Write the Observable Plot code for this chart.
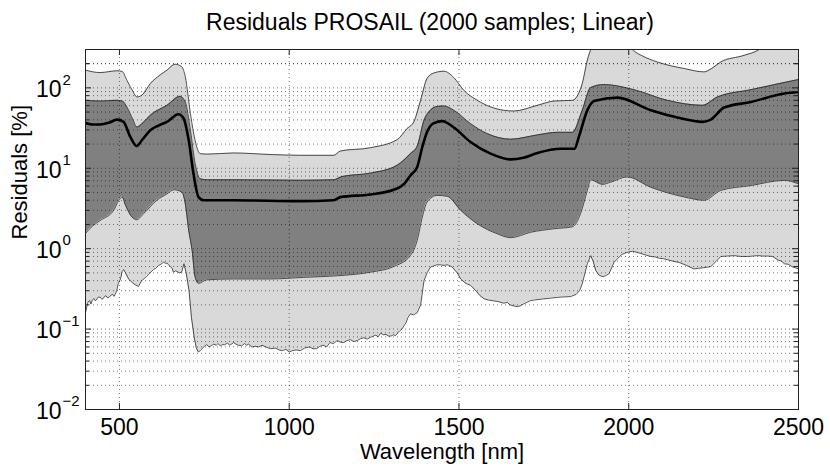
<!DOCTYPE html>
<html><head><meta charset="utf-8">
<script src="https://cdn.jsdelivr.net/npm/d3@7"></script>
<script src="https://cdn.jsdelivr.net/npm/@observablehq/plot@0.6"></script>
<style>body{margin:0;background:#fff} #chart svg{display:block}</style>
</head><body><div id="chart"></div>
<script>
// ---- data ----
const titleText = "Residuals PROSAIL (2000 samples; Linear)";
const xLabel = "Wavelength [nm]";
const yLabel = "Residuals [%]";
const xTicks = [500, 1000, 1500, 2000, 2500];
const yDecades = [0.01, 0.1, 1, 10, 100];
const yExponents = ["\u22122", "\u22121", "0", "1", "2"];

// upper outer bound (light band top)
const wlUpOuter = [400,443,493,508,522,540,551,566,591,620,640,664,684,694,709,723,738,760,836,950,1033,1131,1151,1239,1318,1347,1367,1387,1406,1426,1456,1485,1514,1554,1632,1662,1731,1780,1834,1863,1878,1890,1900,2000,2008,2015,2040,2084,2163,2222,2245,2271,2340,2384,2400,2500];
const upOuter   = [166,155,163,160,124,90,77,81,113,145,166,197,182,137,48,22,15.2,15.0,15.5,14.8,14.5,14.5,16.4,18.0,22.7,31.1,37.8,70,131,153,161,134,93.5,70,52.6,51.5,60.7,68.5,70,113,221,320,450,450,310,290,250,210,174,158,175,210,254,300,340,420];

// upper inner bound (dark band top)
const wlUpInner = [400,443,493,510,522,540,551,570,591,640,679,694,709,723,738,760,836,1033,1131,1156,1239,1318,1357,1377,1397,1411,1436,1456,1485,1534,1583,1652,1731,1790,1834,1863,1888,1927,2015,2114,2217,2261,2360,2500];
const upInner   = [70,68.5,70,68,57.8,40,32.6,37,45.6,60.7,78.5,66.7,29.7,11.4,7.4,7.2,7.2,7.1,7.2,7.9,8.7,10.9,15.2,18.8,39.6,50,58.8,59.5,52.6,35.9,27,23,26,28,28,52.6,101,110,95,70,60.7,77,95,127];

// median
const wlMedian = [400,420,443,470,493,512,532,551,566,591,615,640,674,689,704,718,733,748,836,1033,1131,1151,1239,1308,1340,1357,1377,1392,1406,1426,1451,1485,1534,1593,1652,1690,1731,1800,1840,1853,1878,1898,1967,2065,2144,2217,2240,2281,2360,2458,2500];
const median   = [36.5,35,35,37,40.3,37.8,24.5,18.9,22.3,29.7,34,37.8,46.9,41.6,22.3,8.6,4.38,4.0,4.0,3.9,4.0,4.38,4.73,5.4,6.5,8.15,10.4,18.4,28.3,36.5,38.6,32.1,21.2,15.2,12.9,13.5,15.5,17.5,17.5,24.5,52.6,68.5,75.7,52.6,42.7,37.8,40,56.9,66.8,85,88.8];

// lower inner bound (dark band bottom)
const wlLowInner = [400,420,443,483,498,508,518,537,551,571,610,640,660,684,694,704,714,723,733,757,836,944,1043,1141,1239,1308,1357,1377,1392,1406,1436,1466,1505,1554,1613,1652,1711,1780,1834,1858,1878,1888,1922,1946,1995,2065,2163,2222,2271,2360,2458,2500];
const lowInner   = [1.55,1.9,2.24,3.0,4.0,4.38,3.45,2.47,2.29,2.72,4.0,4.8,5.4,5.05,3.6,1.69,0.95,0.44,0.37,0.41,0.42,0.42,0.44,0.46,0.51,0.6,0.82,1.27,2.47,3.8,4.6,4.47,3.0,2.04,1.53,1.37,1.6,1.77,1.87,2.72,5.3,7.2,6.3,6.7,7.8,5.8,4.4,4.0,5.3,6.1,7.07,6.4];

// lower outer bound (light band bottom, noisy)
const wlLowOuter = [400,404,408,412,416,420,425,429,432,437,443,448,452,456,460,465,470,475,480,484,487,492,496,503,508,512,518,527,540,556,565,572,581,590,600,607,615,622,630,635,640,645,650,655,659,665,670,676,683,690,697,705,712,720,726,732,738,745,751,757,764,770,778,785,790,797,803,810,818,825,836,843,850,860,868,875,880,890,900,910,920,935,945,960,970,980,990,1000,1010,1020,1033,1045,1060,1070,1080,1090,1100,1110,1120,1130,1141,1150,1160,1170,1180,1190,1200,1210,1220,1230,1239,1248,1255,1262,1269,1277,1285,1292,1300,1307,1313,1320,1325,1332,1338,1344,1350,1357,1366,1377,1387,1397,1406,1416,1425,1435,1445,1456,1465,1470,1480,1495,1505,1520,1534,1550,1562,1574,1587,1600,1615,1632,1642,1650,1660,1672,1681,1690,1700,1711,1722,1740,1750,1760,1770,1780,1790,1800,1815,1829,1845,1855,1863,1878,1888,1895,1903,1912,1922,1932,1942,1957,1968,1980,1995,2011,2025,2040,2052,2065,2078,2090,2102,2114,2130,2150,2170,2192,2205,2220,2232,2242,2258,2271,2290,2311,2330,2350,2365,2380,2395,2410,2424,2440,2450,2458,2470,2480,2490,2500];
const lowOuter   = [0.16,0.19,0.22,0.226,0.205,0.23,0.24,0.225,0.23,0.25,0.25,0.235,0.24,0.255,0.26,0.245,0.25,0.265,0.27,0.255,0.27,0.30,0.365,0.42,0.52,0.55,0.50,0.42,0.37,0.338,0.40,0.42,0.46,0.50,0.55,0.57,0.62,0.64,0.68,0.66,0.66,0.63,0.60,0.57,0.51,0.53,0.52,0.50,0.51,0.65,0.49,0.30,0.14,0.08,0.059,0.052,0.054,0.058,0.062,0.064,0.060,0.062,0.065,0.063,0.066,0.062,0.064,0.064,0.067,0.063,0.068,0.065,0.063,0.062,0.066,0.063,0.065,0.060,0.061,0.060,0.063,0.059,0.057,0.058,0.055,0.054,0.056,0.052,0.054,0.055,0.054,0.058,0.060,0.057,0.057,0.061,0.063,0.060,0.068,0.066,0.072,0.069,0.068,0.072,0.074,0.070,0.072,0.076,0.078,0.075,0.079,0.082,0.084,0.080,0.089,0.085,0.086,0.082,0.082,0.085,0.083,0.09,0.095,0.10,0.11,0.12,0.14,0.155,0.15,0.16,0.2,0.40,0.50,0.59,0.61,0.63,0.63,0.62,0.63,0.62,0.59,0.50,0.42,0.37,0.35,0.30,0.26,0.238,0.23,0.225,0.22,0.21,0.215,0.20,0.195,0.19,0.195,0.205,0.215,0.226,0.23,0.235,0.238,0.24,0.243,0.245,0.248,0.25,0.252,0.254,0.27,0.30,0.365,0.65,0.82,0.70,0.535,0.47,0.45,0.46,0.49,0.68,0.76,0.85,0.90,0.93,0.90,0.86,0.83,0.80,0.79,0.76,0.75,0.73,0.70,0.67,0.62,0.56,0.57,0.58,0.59,0.60,0.70,0.80,0.81,0.82,0.80,0.80,0.81,0.82,0.81,0.81,0.80,0.72,0.70,0.65,0.64,0.60,0.58,0.56];

// ---- layout ----
const W = 830, H = 467;
const mL = 85, mR = 32, mT = 49, mB = 58;
const fw = W - mL - mR, fh = H - mT - mB;
const yMin = 0.01, yMax = 300;
const LIGHT = "#d9d9d9", DARK = "#808080", EDGE = "#262626";
const FONT = "'Liberation Sans', Arial, Helvetica, sans-serif";

const pts = (xs, vs) => xs.map((x, i) => ({wl: x, v: vs[i]}));
const dUpOuter = pts(wlUpOuter, upOuter);
const dUpInner = pts(wlUpInner, upInner);
const dMedian = pts(wlMedian, median);
const dLowInner = pts(wlLowInner, lowInner);
const dLowOuter = pts(wlLowOuter, lowOuter);

const yGrid = yDecades.flatMap(d => [1,2,3,4,5,6,7,8,9].map(m => +(m * d).toPrecision(3))).filter(v => v <= yMax);
yGrid.push(200, 300);
const yMinor = yGrid.filter(v => !yDecades.includes(v));
const xGrid = xTicks.filter(v => v < 2500);

const smooth = "monotone-x";
const chart = Plot.plot({
  width: W, height: H,
  marginLeft: mL, marginRight: mR, marginTop: mT, marginBottom: mB,
  style: {fontFamily: FONT, background: "#fff", color: "#000"},
  x: {domain: [400, 2500], axis: null},
  y: {type: "log", domain: [yMin, yMax], axis: null},
  marks: [
    Plot.areaY(dLowOuter, {x: "wl", y1: "v", y2: yMax, fill: LIGHT, clip: true}),
    Plot.areaY(dLowInner, {x: "wl", y1: "v", y2: yMax, fill: DARK, curve: smooth, clip: true}),
    Plot.areaY(dUpInner, {x: "wl", y1: "v", y2: yMax, fill: LIGHT, curve: smooth, clip: true}),
    Plot.areaY(dUpOuter, {x: "wl", y1: "v", y2: yMax * 3, fill: "#fff", curve: smooth, clip: true}),
    Plot.gridY(yGrid, {stroke: "#000", strokeOpacity: 0.6, strokeWidth: 0.9, strokeDasharray: "1,3"}),
    Plot.gridX(xGrid, {stroke: "#000", strokeOpacity: 0.6, strokeWidth: 0.9, strokeDasharray: "1,3"}),
    Plot.lineY(dLowOuter, {x: "wl", y: "v", stroke: EDGE, strokeWidth: 0.8, clip: true}),
    Plot.lineY(dLowInner, {x: "wl", y: "v", stroke: EDGE, strokeWidth: 0.8, curve: smooth, clip: true}),
    Plot.lineY(dUpInner, {x: "wl", y: "v", stroke: EDGE, strokeWidth: 0.8, curve: smooth, clip: true}),
    Plot.lineY(dUpOuter, {x: "wl", y: "v", stroke: EDGE, strokeWidth: 0.8, curve: smooth, clip: true}),
    Plot.lineY(dMedian, {x: "wl", y: "v", stroke: "#000", strokeWidth: 2.6, curve: smooth, clip: true}),
    // inward ticks
    Plot.tickX(xTicks, {x: d => d, insetTop: fh - 6, stroke: "#222"}),
    Plot.tickX(xTicks, {x: d => d, insetBottom: fh - 6, stroke: "#222"}),
    Plot.tickY(yDecades, {y: d => d, insetRight: fw - 6, stroke: "#222"}),
    Plot.tickY(yDecades, {y: d => d, insetLeft: fw - 6, stroke: "#222"}),
    Plot.tickY(yMinor, {y: d => d, insetRight: fw - 4, stroke: "#222"}),
    Plot.tickY(yMinor, {y: d => d, insetLeft: fw - 4, stroke: "#222"}),
    Plot.frame({stroke: "#222", strokeWidth: 1}),
    // x tick labels
    Plot.text(xTicks, {x: d => d, text: d => String(d), frameAnchor: "bottom", dy: 18, lineAnchor: "middle", fontSize: 23}),
    // y tick labels: 10 with superscript exponent
    Plot.text(yDecades, {y: d => d, text: () => "10", frameAnchor: "left", textAnchor: "end", dx: -24, dy: 2, lineAnchor: "middle", fontSize: 23}),
    Plot.text(yDecades, {y: d => d, text: (d, i) => yExponents[i], frameAnchor: "left", textAnchor: "start", dx: -23, dy: -8, lineAnchor: "middle", fontSize: 15}),
    // axis labels and title
    Plot.text([xLabel], {text: d => d, frameAnchor: "bottom", dy: 42, lineAnchor: "middle", fontSize: 22}),
    Plot.text([yLabel], {text: d => d, frameAnchor: "left", dx: -66, dy: 10, rotate: -90, lineAnchor: "middle", fontSize: 22}),
    Plot.text([titleText], {text: d => d, frameAnchor: "top", dx: -12, dy: -27, lineAnchor: "middle", fontSize: 23})
  ]
});
document.getElementById("chart").appendChild(chart);
</script>
</body></html>
